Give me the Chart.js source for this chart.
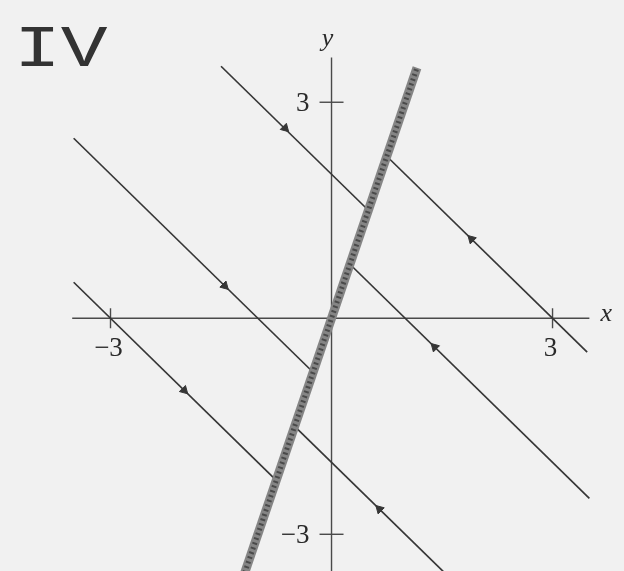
<!DOCTYPE html>
<html>
<head>
<meta charset="utf-8">
<script src="https://cdn.jsdelivr.net/npm/chart.js@4.4.1/dist/chart.umd.min.js"></script>
<style>
  html, body { margin: 0; padding: 0; background: #f1f1f1; }
  #grafico { display: block; }
</style>
</head>
<body>
<canvas id="grafico" width="624" height="571"></canvas>
<script>
// Linha grossa (linha de equilibrios y = 3x)
var linhaEquilX = [-1.2, 1.16];
var linhaEquilY = [-3.6, 3.48];

// Trajetorias finas (x + y = c), do ponto inicial ao ponto final
var trajX1 = [-1.5, -3.5, -3.5, 0.75, 0.25, -0.5];
var trajY1 = [3.5, 2.5, 0.5, 2.25, 0.75, -1.5];
var trajX2 = [0.5, -0.25, -0.75, 3.47, 3.5, 1.52];
var trajY2 = [1.5, -0.75, -2.25, -0.47, -2.5, -3.52];

// Setas sobre as trajetorias
var setaX = [-0.63, -1.45, -2.0, 1.9, 1.4, 0.65];
var setaY = [2.64, 0.45, -1.0, 1.1, -0.4, -2.65];

// Marcas e rotulos dos eixos
var marcas = [-3, 3];
var rotulos = ['\u22123', '3'];

var corLinha = '#363636';

var datasets = [];

// eixos
datasets.push({
  data: [{ x: -3.52, y: 0 }, { x: 3.5, y: 0 }],
  showLine: true, borderColor: '#4a4a4a', borderWidth: 1.6, pointRadius: 0, order: 6
});
datasets.push({
  data: [{ x: 0, y: -3.6 }, { x: 0, y: 3.62 }],
  showLine: true, borderColor: '#4a4a4a', borderWidth: 1.4, pointRadius: 0, order: 6
});

// marcas nos eixos
datasets.push({
  data: marcas.map(function (v) { return { x: v, y: 0 }; }),
  pointStyle: 'line', rotation: 90, pointRadius: 10, borderColor: '#4a4a4a', borderWidth: 1.4, order: 6
});
datasets.push({
  data: marcas.map(function (v) { return { x: 0, y: v }; }),
  pointStyle: 'line', rotation: 0, pointRadius: 12, borderColor: '#4a4a4a', borderWidth: 1.4, order: 6
});

// trajetorias
for (var i = 0; i < trajX1.length; i++) {
  datasets.push({
    data: [{ x: trajX1[i], y: trajY1[i] }, { x: trajX2[i], y: trajY2[i] }],
    showLine: true, borderColor: corLinha, borderWidth: 1.7, pointRadius: 0, order: 3
  });
}

// linha de equilibrios (grossa, com textura)
datasets.push({
  data: [{ x: linhaEquilX[0], y: linhaEquilY[0] }, { x: linhaEquilX[1], y: linhaEquilY[1] }],
  showLine: true, borderColor: '#858585', borderWidth: 9, pointRadius: 0, order: 2
});
datasets.push({
  data: [{ x: linhaEquilX[0], y: linhaEquilY[0] }, { x: linhaEquilX[1], y: linhaEquilY[1] }],
  showLine: true, borderColor: '#4a4a4a', borderWidth: 5, borderDash: [2, 3], pointRadius: 0, order: 1
});

// setas: apontam para a linha de equilibrios
datasets.push({
  data: setaX.map(function (x, k) { return { x: x, y: setaY[k] }; }),
  pointStyle: 'triangle',
  rotation: setaX.map(function (x, k) { return setaY[k] > 3 * x ? 135 : -45; }),
  pointRadius: 5, backgroundColor: corLinha, borderColor: corLinha, borderWidth: 1, order: 0
});

var textos = {
  id: 'textos',
  afterDatasetsDraw: function (chart) {
    var c = chart.ctx;
    var sx = chart.scales.x, sy = chart.scales.y;
    var x0 = sx.getPixelForValue(0), y0 = sy.getPixelForValue(0);
    c.save();
    c.fillStyle = '#2a2a2a';
    c.textAlign = 'center';
    c.textBaseline = 'middle';
    c.font = '27px "Liberation Serif"';
    for (var k = 0; k < marcas.length; k++) {
      var px = sx.getPixelForValue(marcas[k]);
      var py = sy.getPixelForValue(marcas[k]);
      // rotulos do eixo x (abaixo)
      c.fillText(rotulos[k], px - 2, y0 + 31);
      // rotulos do eixo y (a esquerda)
      c.textAlign = 'right';
      c.fillText(rotulos[k], x0 - 22, py + 2);
      c.textAlign = 'center';
    }
    c.font = 'italic 26px "Liberation Serif"';
    c.fillText('x', sx.getPixelForValue(3.5) + 17, y0 - 4);
    c.fillText('y', x0 - 4, sy.getPixelForValue(3.6) - 20);
    // titulo "IV"
    c.translate(14, 50);
    c.scale(1.3, 1);
    c.font = '60px "Liberation Mono"';
    c.textAlign = 'left';
    c.fillStyle = '#333';
    c.fillText('IV', 0, 0);
    c.restore();
  }
};

var ctx = document.getElementById('grafico').getContext('2d');
var grafico = new Chart(ctx, {
  type: 'scatter',
  data: { datasets: datasets },
  options: {
    responsive: false,
    animation: false,
    devicePixelRatio: 1,
    layout: { padding: 0, autoPadding: false },
    clip: false,
    plugins: { legend: { display: false }, tooltip: { enabled: false } },
    scales: {
      x: { type: 'linear', min: -4.5, max: 3.97, display: false },
      y: { type: 'linear', min: -3.51, max: 4.42, display: false }
    }
  },
  plugins: [textos]
});
</script>
</body>
</html>
